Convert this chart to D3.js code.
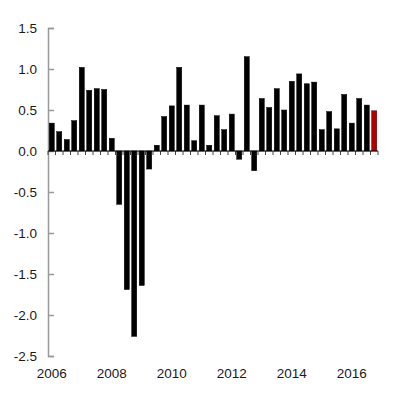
<!DOCTYPE html>
<html>
<head>
<meta charset="utf-8">
<script src="https://cdn.jsdelivr.net/npm/d3@7"></script>
<style>
  html, body { margin: 0; padding: 0; background: #fff; }
  svg { display: block; }
</style>
</head>
<body>
<div id="chart"></div>
<script>
const quarters = [
  "2006Q1","2006Q2","2006Q3","2006Q4",
  "2007Q1","2007Q2","2007Q3","2007Q4",
  "2008Q1","2008Q2","2008Q3","2008Q4",
  "2009Q1","2009Q2","2009Q3","2009Q4",
  "2010Q1","2010Q2","2010Q3","2010Q4",
  "2011Q1","2011Q2","2011Q3","2011Q4",
  "2012Q1","2012Q2","2012Q3","2012Q4",
  "2013Q1","2013Q2","2013Q3","2013Q4",
  "2014Q1","2014Q2","2014Q3","2014Q4",
  "2015Q1","2015Q2","2015Q3","2015Q4",
  "2016Q1","2016Q2","2016Q3","2016Q4"
];
const values = [
  0.34, 0.235, 0.14, 0.37,
  1.02, 0.74, 0.76, 0.75,
  0.155, -0.65, -1.69, -2.26,
  -1.64, -0.22, 0.07, 0.42,
  0.55, 1.02, 0.56, 0.125,
  0.56, 0.07, 0.43, 0.26,
  0.45, -0.10, 1.15, -0.24,
  0.64, 0.53, 0.76, 0.50,
  0.85, 0.94, 0.82, 0.84,
  0.26, 0.48, 0.27, 0.69,
  0.34, 0.64, 0.56, 0.49
];
const highlighted = ["2016Q4"];
const yTicks = [1.5, 1.0, 0.5, 0.0, -0.5, -1.0, -1.5, -2.0, -2.5];
const xTickLabels = ["2006", "2008", "2010", "2012", "2014", "2016"];

const W = 401, H = 397;
const svg = d3.select("#chart").append("svg").attr("width", W).attr("height", H);

const x = d3.scaleBand().domain(quarters).range([48, 378]).paddingInner(0.33).paddingOuter(0.165);
const y = d3.scaleLinear().domain([-2.5, 1.5]).range([356, 28]);

const font = "'Liberation Sans', Arial, sans-serif";

// Y axis
const yAxis = d3.axisRight(y).tickValues(yTicks).tickSize(6).tickFormat(d3.format(".1f"));
const gy = svg.append("g").attr("transform", "translate(48,0)").call(yAxis);
gy.select(".domain").attr("stroke", "#999").attr("stroke-width", 1.5);
gy.selectAll(".tick line").attr("stroke", "#999").attr("stroke-width", 1.5);
gy.selectAll(".tick text")
  .attr("x", -11).attr("text-anchor", "end")
  .attr("fill", "#1a1a1a")
  .style("font-family", font).style("font-size", "13.5px")
  .text(d => d < 0 ? "-" + d3.format(".1f")(-d) : d3.format(".1f")(d));

// Bars
svg.append("g").selectAll("rect").data(quarters).join("rect")
  .attr("x", d => x(d))
  .attr("width", x.bandwidth())
  .attr("y", (d, i) => Math.min(y(values[i]), y(0)))
  .attr("height", (d, i) => Math.abs(y(values[i]) - y(0)))
  .attr("fill", d => highlighted.includes(d) ? "#b40000" : "#000")
  .attr("stroke", d => highlighted.includes(d) ? "#3a0000" : "#000")
  .attr("stroke-width", 0.5);

// Zero axis with quarter ticks
const boundaries = quarters.map(q => x(q) - x.step() * x.paddingInner() / 2).concat([378]);
const g0 = svg.append("g");
g0.selectAll("line.qt").data(boundaries).join("line")
  .attr("class", "qt")
  .attr("x1", d => d).attr("x2", d => d)
  .attr("y1", y(0)).attr("y2", y(0) + 4)
  .attr("stroke", "#444").attr("stroke-width", 1);
g0.append("line")
  .attr("x1", 48).attr("x2", 378)
  .attr("y1", y(0)).attr("y2", y(0))
  .attr("stroke", "#000").attr("stroke-width", 1.2);

// X labels
svg.append("g").selectAll("text").data(xTickLabels).join("text")
  .attr("x", d => x(d + "Q1") + x.bandwidth() / 2)
  .attr("y", 378)
  .attr("text-anchor", "middle")
  .attr("fill", "#1a1a1a")
  .style("font-family", font).style("font-size", "13.5px")
  .text(d => d);
</script>
</body>
</html>
